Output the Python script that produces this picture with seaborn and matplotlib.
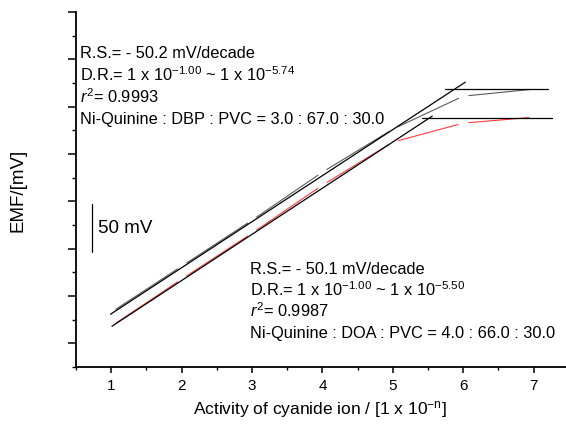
import numpy as np
import pandas as pd
import matplotlib
matplotlib.use('Agg')
import matplotlib.pyplot as plt
from matplotlib.ticker import MultipleLocator, NullFormatter
import seaborn as sns

# --- du lieu doc tu hinh (EMF tinh theo mV, goc tuy y) ---
conc = [1, 2, 3, 4, 5, 6, 7]
emf_dbp = [32.8, 81.4, 130.0, 180.8, 226.2, 261.1, 268.5]
emf_doa = [18.0, 67.7, 116.3, 167.0, 212.5, 232.6, 238.9]

# duong hoi quy tuyen tinh
fit_dbp_x = [0.99, 6.03]
fit_dbp_y = [30.7, 275.9]
fit_doa_x = [1.01, 5.56]
fit_doa_y = [18.0, 240.0]

# duong nam ngang (vung bao hoa)
flat_dbp_x = [5.74, 7.21]
flat_dbp_y = [268.5, 268.5]
flat_doa_x = [5.42, 7.26]
flat_doa_y = [237.8, 237.8]

# thanh ty le 50 mV
bar_x = [0.73, 0.73]
bar_y = [97.0, 147.0]

xticks = [1, 2, 3, 4, 5, 6, 7]

sns.set_theme(style='ticks')
plt.rcParams['font.family'] = ['Liberation Sans', 'DejaVu Sans']
plt.rcParams['text.color'] = 'black'
plt.rcParams['axes.labelcolor'] = 'black'
plt.rcParams['mathtext.fontset'] = 'custom'
plt.rcParams['mathtext.rm'] = 'Liberation Sans'
plt.rcParams['mathtext.it'] = 'Liberation Sans:italic'

fig = plt.figure(figsize=(5.66, 4.27), dpi=100)
ax = fig.add_axes([76 / 566, 59 / 427, 492.8 / 566, 355 / 427])

df = pd.DataFrame({'x': conc, 'dbp': emf_dbp, 'doa': emf_doa})

# duong du lieu, ngat quang tai cac diem (marker trang)
sns.lineplot(data=df, x='x', y='dbp', ax=ax, color='#5a5a5a', linewidth=0.8,
             marker='o', markersize=6.5, markerfacecolor='white',
             markeredgecolor='white', zorder=2)
sns.lineplot(data=df, x='x', y='doa', ax=ax, color='#ff3b3b', linewidth=0.8,
             marker='o', markersize=6.5, markerfacecolor='white',
             markeredgecolor='white', zorder=2)

for xs, ys in [(fit_dbp_x, fit_dbp_y), (fit_doa_x, fit_doa_y),
               (flat_dbp_x, flat_dbp_y), (flat_doa_x, flat_doa_y)]:
    ax.plot(xs, ys, color='black', linewidth=0.9, zorder=3)

ax.plot(bar_x, bar_y, color='black', linewidth=0.9)
ax.text(0.815, 122, '50 mV', fontsize=13.5, va='center', ha='left')

ax.set_xlim(0.5, 7.5)
ax.set_ylim(-25, 350)
ax.set_xticks(xticks)
ax.xaxis.set_minor_locator(MultipleLocator(0.5))
ax.yaxis.set_major_locator(MultipleLocator(50))
ax.yaxis.set_minor_locator(MultipleLocator(25))
ax.yaxis.set_major_formatter(NullFormatter())

sns.despine(ax=ax)
for s in ['left', 'bottom']:
    ax.spines[s].set_linewidth(1.3)
    ax.spines[s].set_color('black')

ax.tick_params(axis='x', which='major', length=4.5, width=1.1, pad=3.5,
               labelsize=11, colors='black')
ax.tick_params(axis='x', which='minor', length=2.5, width=1.0, colors='black')
ax.tick_params(axis='y', which='major', length=6, width=1.1, colors='black')
ax.tick_params(axis='y', which='minor', length=3, width=1.0, colors='black')

ax.set_xlabel(r'Activity of cyanide ion / [1 x 10$^{\mathregular{-n}}$]',
              fontsize=12.5, va='center')
ax.xaxis.set_label_coords(0.495, -0.118)
ax.set_ylabel('EMF/[mV]', fontsize=13.5, va='center')
ax.yaxis.set_label_coords(-0.118, 0.501)

fs = 11.8
# chu thich DBP
ax.text(0.56, 302.0, 'R.S.= - 50.2 mV/decade', fontsize=fs)
ax.text(0.56, 278.0, r'D.R.= 1 x 10$^{\mathregular{-1.00}}$ ~ 1 x 10$^{\mathregular{-5.74}}$', fontsize=fs)
ax.text(0.56, 255.0, r'$\mathit{r}^{\mathregular{2}}$= 0.9993', fontsize=fs)
ax.text(0.56, 233.0, 'Ni-Quinine : DBP : PVC = 3.0 : 67.0 : 30.0', fontsize=fs)

# chu thich DOA
ax.text(2.97, 74.0, 'R.S.= - 50.1 mV/decade', fontsize=fs)
ax.text(2.97, 51.0, r'D.R.= 1 x 10$^{\mathregular{-1.00}}$ ~ 1 x 10$^{\mathregular{-5.50}}$', fontsize=fs)
ax.text(2.97, 28.5, r'$\mathit{r}^{\mathregular{2}}$= 0.9987', fontsize=fs)
ax.text(2.97, 6.5, 'Ni-Quinine : DOA : PVC = 4.0 : 66.0 : 30.0', fontsize=fs)

fig.savefig('out.png', dpi=100)
